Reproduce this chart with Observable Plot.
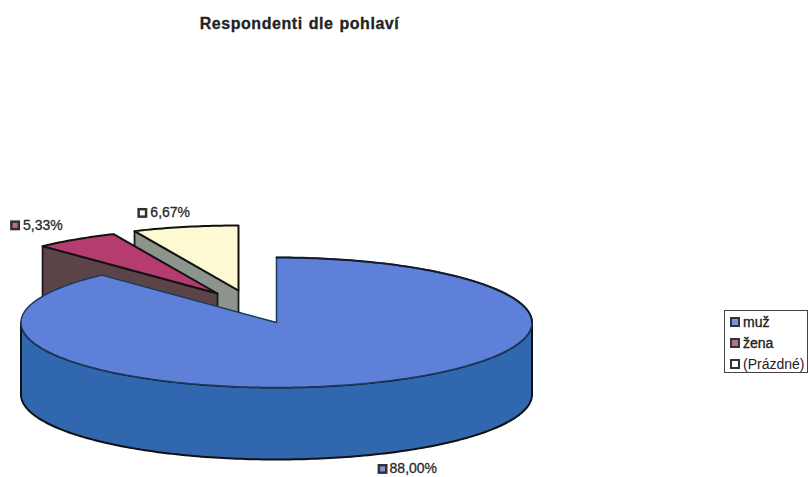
<!DOCTYPE html>
<html>
<head>
<meta charset="utf-8">
<script src="https://cdn.jsdelivr.net/npm/d3@7"></script>
<script src="https://cdn.jsdelivr.net/npm/@observablehq/plot@0.6"></script>
<style>
  html, body { margin: 0; padding: 0; background: #fff; overflow: hidden; }
  #chart { position: relative; width: 810px; height: 477px; font-family: "Liberation Sans", Arial, sans-serif; color: #222; }
  #title { position: absolute; left: 0; top: 15px; width: 599px; text-align: center; font-size: 16px; font-weight: bold; letter-spacing: .55px; word-spacing: 1px; white-space: nowrap; -webkit-text-stroke: .3px #222; }
  #legend { position: absolute; left: 724px; top: 310px; width: 84px; height: 63px; box-sizing: border-box; border: 1px solid #444; font-size: 14px; }
  #legend .row { position: absolute; left: 5px; height: 16px; line-height: 16px; white-space: nowrap; }
  #legend .sw { position: absolute; left: 0; top: 3px; width: 6px; height: 6px; border: 2px solid #333; }
  #legend .tx { position: absolute; left: 13px; top: 0; }
  #legend .strong { -webkit-text-stroke: .35px #222; }
</style>
</head>
<body>
<div id="chart"><div id="title">Respondenti dle pohlaví</div><div id="legend"></div></div>
<script>
// Respondents by gender
const categories = ["muž", "žena", "(Prázdné)"];
const shares = [88.00, 5.33, 6.67];
const labels = ["88,00%", "5,33%", "6,67%"];

// Colours per slice: top surface, cut face, label swatch
const topColors = ["#5f80d8", "#b43c6e", "#fdf9d2"];
const faceColors = ["#3067ae", "#5b4347", "#8b958b"];
const keyColors = ["#7f93d8", "#b9708e", "#ffffff"];

// Pie projection, in pixels per unit radius
const width = 810, height = 477;
const cx = 276, cy = 322, rx = 255.5, ry = 65, depthPx = 72;
const depth = depthPx / ry;

// How far each slice is pulled out of the pie, in radii along each axis
const pullX = [0, -59 / rx, -38 / rx];
const pullY = [0, 29 / ry, 32 / ry];

// Label offsets from the rim point at the slice's middle angle
const keyDx = [12, -61, -43];
const textDx = [19, -53, -35];
const labelDy = [14, -14, -14];

const edges = d3.cumsum([0, ...shares]).map(s => s * 3.6);
const rad = d => d * Math.PI / 180;
const rim = (deg, i, drop = 0) => ({
  x: Math.sin(rad(deg)) + pullX[i],
  y: Math.cos(rad(deg)) + pullY[i] - drop
});
const arc = (a, b, i, drop = 0) => {
  const n = Math.ceil(Math.abs(b - a));
  return d3.range(n + 1).map(k => rim(a + (b - a) * k / n, i, drop));
};
const apex = (i, drop = 0) => ({ x: pullX[i], y: pullY[i] - drop });

const topFace = i => [apex(i), ...arc(edges[i], edges[i + 1], i)];
const cutFace = i => [apex(i), rim(edges[i], i), rim(edges[i], i, depth), apex(i, depth)];
const frontWall = [...arc(90, 270, 0), ...arc(270, 90, 0, depth)];

const closed = (points, fill, stroke, strokeWidth) =>
  Plot.line(points, { x: "x", y: "y", curve: "linear-closed", fill, stroke, strokeWidth });

const anchors = shares.map((_, i) => {
  const mid = (edges[i] + edges[i + 1]) / 2;
  return rim(mid, i, i === 0 ? depth : 0);
});

const labelMarks = labels.flatMap((label, i) => [
  Plot.dot([anchors[i]], { x: "x", y: "y", dx: keyDx[i], dy: labelDy[i], symbol: "square", r: 5.6, fill: "#333" }),
  Plot.dot([anchors[i]], { x: "x", y: "y", dx: keyDx[i], dy: labelDy[i], symbol: "square", r: 2.8, fill: keyColors[i] }),
  Plot.text([anchors[i]], {
    x: "x", y: "y", dx: textDx[i], dy: labelDy[i], text: () => label,
    fontSize: 14, fill: "#2a2a2a", stroke: "#2a2a2a", strokeWidth: 0.3, textAnchor: "start"
  })
]);

const plot = Plot.plot({
  width, height,
  margin: 0,
  x: { axis: null, domain: [-cx / rx, (width - cx) / rx], range: [0, width] },
  y: { axis: null, domain: [cy / ry, (cy - height) / ry], range: [0, height] },
  style: { background: "transparent", fontFamily: "Liberation Sans, Arial, sans-serif" },
  marks: [
    // Back slices first, the large slice last so it overlaps them
    closed(cutFace(2), faceColors[2], "#1a1a1a", 1.8),
    closed(topFace(2), topColors[2], "#111", 2),
    closed(cutFace(1), faceColors[1], "#1a1a1a", 1.8),
    closed(topFace(1), topColors[1], "#111", 2),
    closed(frontWall, faceColors[0], "#111", 2),
    closed(topFace(0), topColors[0], "#1b3a5c", 1.5),
    // Heavier rim along the far side of the large slice
    Plot.line(arc(0, 90, 0), { x: "x", y: "y", stroke: "#141c2c", strokeWidth: 2 }),
    ...labelMarks
  ]
});
document.getElementById("chart").prepend(plot);
plot.style.display = "block";

// Legend box
const legend = document.getElementById("legend");
categories.forEach((name, i) => {
  const row = document.createElement("div");
  row.className = "row";
  row.style.top = (3 + i * 21) + "px";
  const sw = document.createElement("span");
  sw.className = "sw";
  sw.style.background = keyColors[i];
  const tx = document.createElement("span");
  tx.className = i < 2 ? "tx strong" : "tx";
  tx.textContent = name;
  row.append(sw, tx);
  legend.append(row);
});
</script>
</body>
</html>
